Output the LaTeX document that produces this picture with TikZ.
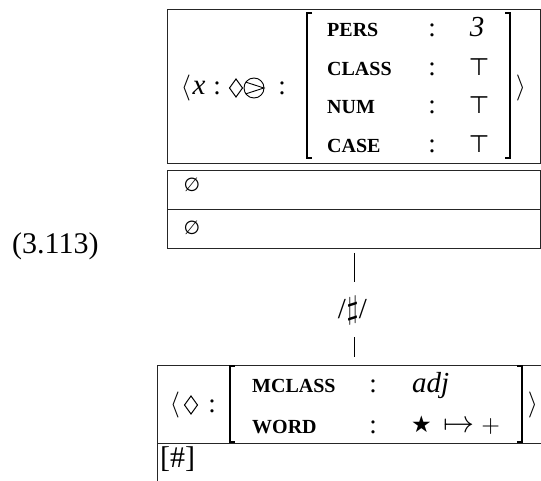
\documentclass[tikz,border=0pt]{standalone}
\usepackage{fontspec}
\setmainfont{Liberation Serif}
\newfontfamily\symfont{DejaVu Sans}
\begin{document}
\begin{tikzpicture}[x=1pt,y=-1pt,
  frame/.style={draw=black!85, line width=0.8pt, inner sep=0pt},
  txt/.style={inner sep=0pt, font=\fontsize{29}{32}\selectfont},
  msym/.style={inner sep=0pt, font=\fontsize{10}{12}\selectfont, scale=#1, transform shape},
  dsym/.style={inner sep=0pt, font=\symfont\fontsize{#1}{#1}\selectfont},
  feat/.style={inner sep=0pt, anchor=base west, font=\fontsize{20}{22}\selectfont\bfseries},
  colon/.style={inner sep=0pt, anchor=base, font=\fontsize{27}{30}\selectfont},
  loz/.style={line width=1pt, line join=miter},
  brk/.style={line width=1.6pt},
  conn/.style={line width=0.9pt}]
\useasboundingbox (0,0) rectangle (541,481);
\clip (0,0) rectangle (541,481);

% equation number
\node[inner sep=0pt, anchor=base west, font=\fontsize{30}{32}\selectfont] (eqno) at (12,254) {(3.113)};

% ---------- upper sign ----------
\node[frame, minimum width=373pt, minimum height=154pt] (sem) at (353.5,86) {};
\node[frame, minimum width=373pt, minimum height=39pt] (rowa) at (353.5,189.5) {};
\node[frame, minimum width=373pt, minimum height=39pt] (rowb) at (353.5,228.5) {};

\node[msym=2.6] (la) at (186,88) {$\langle$};
\node[txt, anchor=base] (xv) at (199,95) {\itshape x};
\node[colon] (ca) at (217,95) {:};
\coordinate (dia) at (236,88);
\draw[loz] ([yshift=-9pt]dia) -- ([xshift=6.5pt]dia) -- ([yshift=9pt]dia) -- ([xshift=-6.5pt]dia) -- cycle;
\node[circle, draw, line width=0.9pt, minimum size=20pt, inner sep=0pt] (cg) at (254,88) {};
\draw[line width=0.9pt] (cg.145) -- ([xshift=-0.6pt]cg.east) -- (cg.215);
\node[colon] (cb) at (282,95) {:};

% attribute matrix
\draw[brk] (312,13) -- (307,13) -- (307,158) -- (312,158);
\draw[brk] (505,13) -- (510,13) -- (510,158) -- (505,158);
\node[feat] (pers)  at (327,37)    {PERS};
\node[feat] (class) at (327,75.5)  {CLASS};
\node[feat] (num)   at (327,114)   {NUM};
\node[feat] (case)  at (327,152.5) {CASE};
\node[colon] (cp) at (432,37)    {:};
\node[colon] (cc) at (432,75.5)  {:};
\node[colon] (cn) at (432,114)   {:};
\node[colon] (cs) at (432,152.5) {:};
\node[txt, anchor=base] (vp) at (477,37)    {\itshape 3};
\node[dsym=24, anchor=base] (vc) at (479,75.5)  {⊤};
\node[dsym=24, anchor=base] (vn) at (479,114)   {⊤};
\node[dsym=24, anchor=base] (vs) at (479,152.5) {⊤};
\node[msym=2.6] (ra) at (521,88) {$\rangle$};

\node[dsym=19] (ea) at (192,185) {∅};
\node[dsym=19] (eb) at (192,228) {∅};

% ---------- linking boundary ----------
\node[txt, anchor=base] (sa) at (342,318) {/};
\node[msym=3.2, anchor=base] (sh) at (352.5,318) {$\sharp$};
\node[txt, anchor=base] (sb) at (363,318) {/};
\coordinate (ta) at (354,253);
\coordinate (tb) at (354,282);
\coordinate (tc) at (354,337);
\coordinate (td) at (354,357);
\draw[conn] (ta) -- (tb);
\draw[conn] (tc) -- (td);

% ---------- lower sign ----------
\coordinate (lo-nw) at (157,365);
\coordinate (lo-ne) at (560,365);
\coordinate (lo-w)  at (157,443);
\coordinate (lo-e)  at (560,443);
\coordinate (lo-sw) at (157,500);
\draw[line width=0.8pt, draw=black!85] (lo-ne) -- (lo-nw) -- (lo-sw);
\draw[line width=0.8pt, draw=black!85] (lo-w) -- (lo-e);

\node[msym=2.6] (lb) at (175,405) {$\langle$};
\coordinate (dib) at (191,405);
\draw[loz] ([yshift=-9pt]dib) -- ([xshift=6.5pt]dib) -- ([yshift=9pt]dib) -- ([xshift=-6.5pt]dib) -- cycle;
\node[colon] (cd) at (212,412) {:};
\draw[brk] (235,366) -- (230,366) -- (230,442) -- (235,442);
\draw[brk] (517,366) -- (522,366) -- (522,442) -- (517,442);
\node[feat] (mcl)  at (252,392) {MCLASS};
\node[feat] (word) at (252,433) {WORD};
\node[colon] (cm) at (373,392) {:};
\node[colon] (cw) at (373,433) {:};
\node[txt, anchor=base west] (adj) at (412,392) {\itshape adj};
\node[dsym=23, anchor=base west] (star) at (411,432) {★};
\node[msym=3.1, anchor=base west] (map) at (443,432) {$\mapsto$};
\node[msym=2.4, anchor=base west] (plus) at (481,432) {$+$};
\node[msym=2.6] (rb) at (533,405) {$\rangle$};

\node[inner sep=0pt, anchor=base west, font=\fontsize{30}{32}\selectfont] (hash) at (160,467) {[\#]};
\end{tikzpicture}
\end{document}
